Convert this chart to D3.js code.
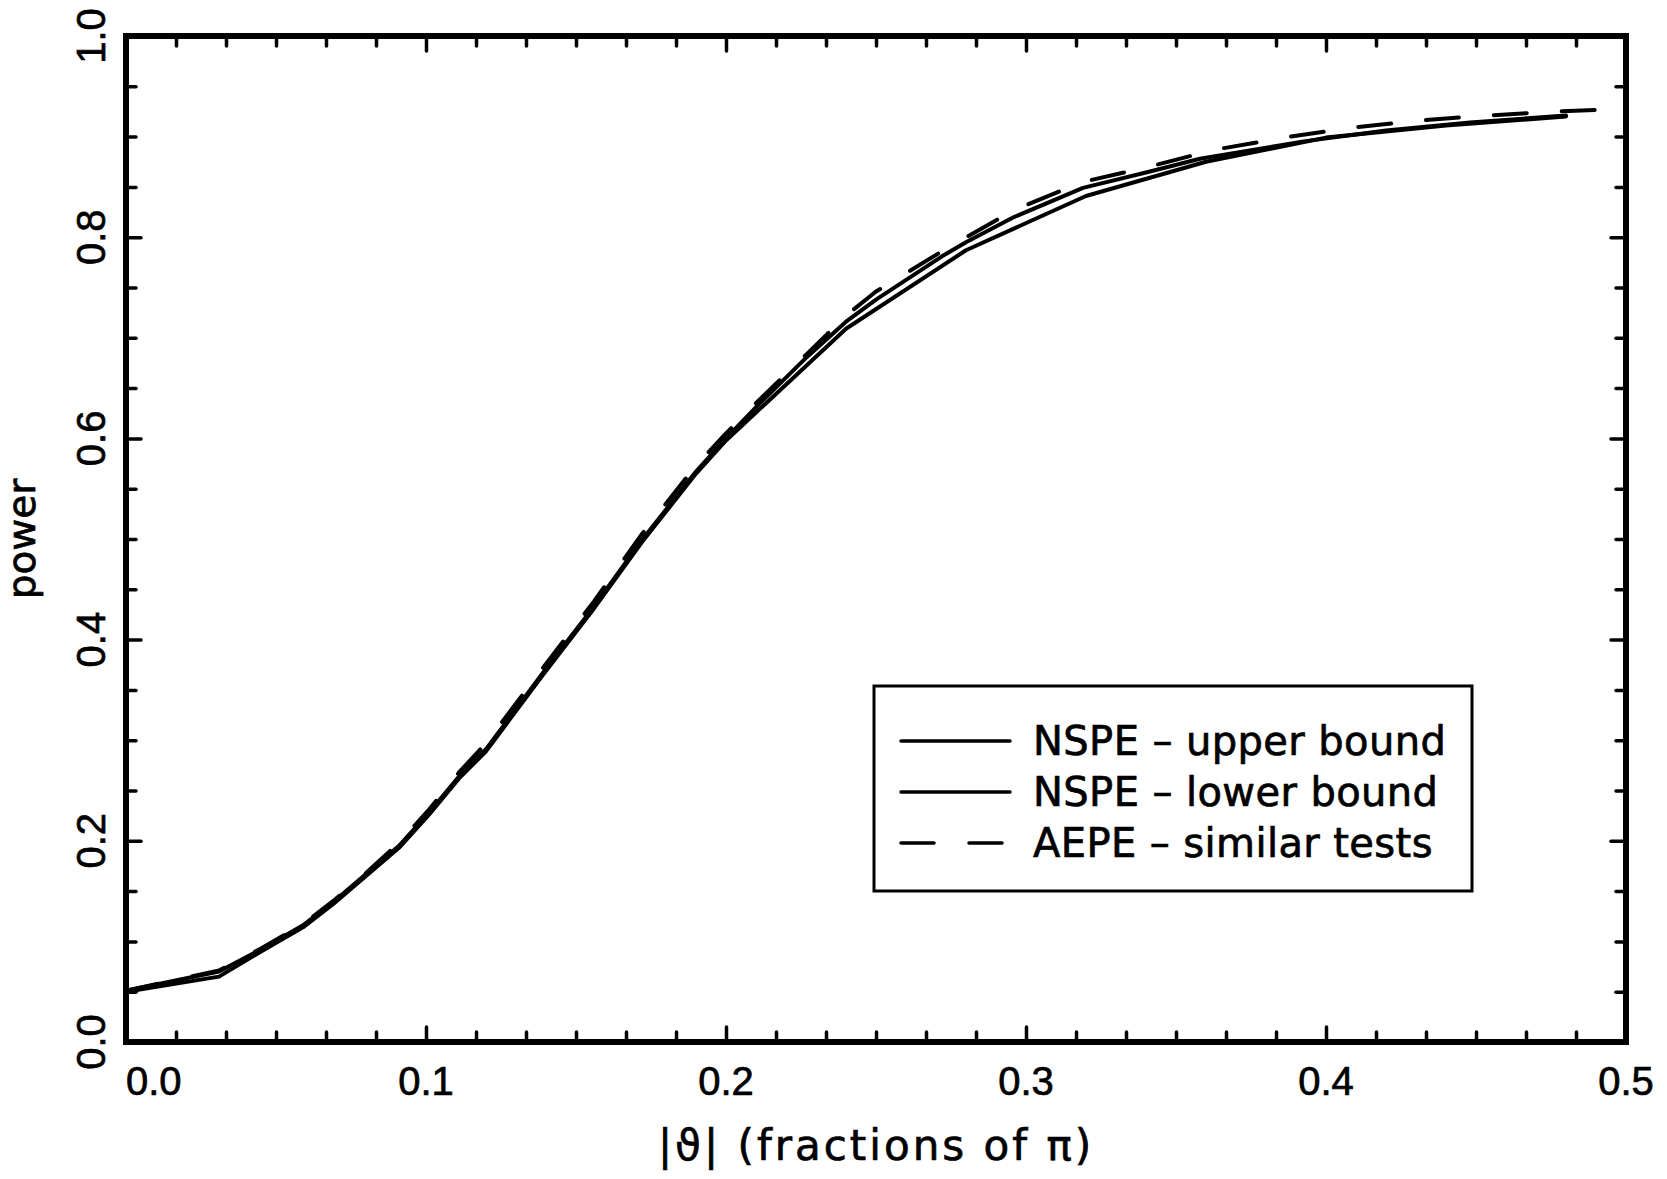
<!DOCTYPE html>
<html>
<head>
<meta charset="utf-8">
<script src="https://cdn.jsdelivr.net/npm/d3@7"></script>
<style>
  html, body { margin: 0; padding: 0; background: #fff; }
  svg { display: block; }
  svg text { fill: #000; stroke: #000; stroke-width: 0.7px; }
</style>
</head>
<body>
<svg id="chart"></svg>
<script>
const width = 1667;
const height = 1179;
const margin = { top: 36, right: 41, bottom: 137, left: 126 };

// NSPE - lower bound
const thetaLower = [0, 0.031, 0.045, 0.059, 0.069, 0.080, 0.091, 0.101, 0.111, 0.120, 0.139, 0.156, 0.172, 0.190, 0.200, 0.240, 0.280, 0.320, 0.360, 0.400, 0.440, 0.480];
const powerLower = [0.050, 0.065, 0.090, 0.114, 0.137, 0.165, 0.193, 0.226, 0.262, 0.289, 0.365, 0.431, 0.497, 0.565, 0.598, 0.709, 0.787, 0.841, 0.875, 0.899, 0.911, 0.920];

// NSPE - upper bound
const thetaUpper = [0, 0.031, 0.045, 0.059, 0.069, 0.080, 0.091, 0.101, 0.111, 0.120, 0.139, 0.156, 0.172, 0.190, 0.200, 0.211, 0.227, 0.240, 0.250, 0.272, 0.280, 0.296, 0.319, 0.341, 0.358, 0.392, 0.420, 0.448, 0.480];
const powerUpper = [0.051, 0.070, 0.092, 0.116, 0.139, 0.167, 0.195, 0.228, 0.264, 0.291, 0.367, 0.433, 0.499, 0.567, 0.600, 0.634, 0.681, 0.716, 0.738, 0.781, 0.795, 0.820, 0.849, 0.865, 0.878, 0.895, 0.906, 0.914, 0.921];

// AEPE - similar tests
const thetaAEPE = [0, 0.031, 0.045, 0.059, 0.069, 0.080, 0.091, 0.101, 0.111, 0.120, 0.139, 0.156, 0.172, 0.190, 0.200, 0.211, 0.227, 0.240, 0.250, 0.272, 0.296, 0.319, 0.341, 0.363, 0.386, 0.409, 0.431, 0.454, 0.477, 0.494];
const powerAEPE = [0.051, 0.071, 0.093, 0.117, 0.140, 0.168, 0.198, 0.231, 0.268, 0.297, 0.372, 0.438, 0.505, 0.573, 0.605, 0.638, 0.684, 0.722, 0.746, 0.786, 0.827, 0.855, 0.870, 0.887, 0.899, 0.909, 0.916, 0.921, 0.925, 0.927];

const xMajor = [0, 0.1, 0.2, 0.3, 0.4, 0.5];
const xMajorLabels = ["0.0", "0.1", "0.2", "0.3", "0.4", "0.5"];
const yMajor = [0, 0.2, 0.4, 0.6, 0.8, 1.0];
const yMajorLabels = ["0.0", "0.2", "0.4", "0.6", "0.8", "1.0"];
const legendLabels = ["NSPE \u2013 upper bound", "NSPE \u2013 lower bound", "AEPE \u2013 similar tests"];

const xMinor = d3.range(1, 30).map(i => i / 60).filter(v => Math.abs(v * 10 - Math.round(v * 10)) > 1e-6);
const yMinor = d3.range(1, 20).map(i => i / 20).filter(v => Math.abs(v * 5 - Math.round(v * 5)) > 1e-6);

const innerW = width - margin.left - margin.right;
const innerH = height - margin.top - margin.bottom;

const svg = d3.select("#chart")
  .attr("width", width)
  .attr("height", height);

const g = svg.append("g")
  .attr("transform", `translate(${margin.left},${margin.top})`);

const x = d3.scaleLinear().domain([0, 0.5]).range([0, innerW]);
const y = d3.scaleLinear().domain([0, 1]).range([innerH, 0]);

// ticks, all pointing inward
function tickAxis(axis, values, size, transform) {
  const a = g.append("g")
    .attr("transform", transform)
    .call(axis.tickValues(values).tickSize(size).tickFormat(""));
  a.select(".domain").remove();
  a.selectAll(".tick line").attr("stroke", "#000").attr("stroke-width", 3.5).attr("stroke-linecap", "round");
  return a;
}
tickAxis(d3.axisBottom(x), xMinor, -10, `translate(0,${innerH})`);
tickAxis(d3.axisBottom(x), xMajor, -15, `translate(0,${innerH})`);
tickAxis(d3.axisTop(x), xMinor, -10, "translate(0,0)");
tickAxis(d3.axisTop(x), xMajor, -15, "translate(0,0)");
tickAxis(d3.axisLeft(y), yMinor, -10, "translate(0,0)");
tickAxis(d3.axisLeft(y), yMajor, -15, "translate(0,0)");
tickAxis(d3.axisRight(y), yMinor, -10, `translate(${innerW},0)`);
tickAxis(d3.axisRight(y), yMajor, -15, `translate(${innerW},0)`);

// tick labels
g.append("g").selectAll("text")
  .data(xMajor)
  .enter()
  .append("text")
  .attr("x", d => x(d))
  .attr("y", innerH + 53)
  .attr("text-anchor", d => d === 0 ? "start" : "middle")
  .style("font-family", '"Liberation Sans", Arial, sans-serif')
  .style("font-size", "40px")
  .text((d, i) => xMajorLabels[i]);

g.append("g").selectAll("text")
  .data(yMajor)
  .enter()
  .append("text")
  .attr("transform", d => `translate(-21,${y(d)}) rotate(-90)`)
  .attr("text-anchor", "middle")
  .style("font-family", '"Liberation Sans", Arial, sans-serif')
  .style("font-size", "40px")
  .text((d, i) => yMajorLabels[i]);

// axis titles
svg.append("text")
  .attr("transform", `translate(35,${margin.top + innerH / 2}) rotate(-90)`)
  .attr("text-anchor", "middle")
  .style("font-family", '"DejaVu Sans", sans-serif')
  .style("font-size", "39px")
  .text("power");

svg.append("text")
  .attr("x", margin.left + innerW / 2)
  .attr("y", 1160)
  .attr("text-anchor", "middle")
  .style("font-family", '"DejaVu Sans", sans-serif')
  .style("font-size", "42px")
  .style("letter-spacing", "3px")
  .text("|\u03d1| (fractions of \u03c0)");

// curves
const line = d3.line()
  .x(d => x(d[0]))
  .y(d => y(d[1]));

const series = [
  { theta: thetaUpper, power: powerUpper, dash: null },
  { theta: thetaLower, power: powerLower, dash: null },
  { theta: thetaAEPE, power: powerAEPE, dash: "33,35" }
];

g.selectAll("path.curve")
  .data(series)
  .enter()
  .append("path")
  .attr("class", "curve")
  .attr("d", s => line(d3.zip(s.theta, s.power)))
  .attr("fill", "none")
  .attr("stroke", "#000")
  .attr("stroke-width", 4)
  .attr("stroke-linecap", "round")
  .attr("stroke-linejoin", "round")
  .attr("stroke-dasharray", s => s.dash);

// frame
g.append("rect")
  .attr("x", 0)
  .attr("y", 0)
  .attr("width", innerW)
  .attr("height", innerH)
  .attr("fill", "none")
  .attr("stroke", "#000")
  .attr("stroke-width", 6);

// legend
const legend = svg.append("g").attr("transform", "translate(874,686)");
legend.append("rect")
  .attr("width", 598)
  .attr("height", 205)
  .attr("fill", "#fff")
  .attr("stroke", "#000")
  .attr("stroke-width", 3);

const rows = legend.selectAll("g.row")
  .data(series)
  .enter()
  .append("g")
  .attr("class", "row")
  .attr("transform", (d, i) => `translate(0,${55 + i * 51})`);

rows.append("line")
  .attr("x1", 27)
  .attr("x2", 136)
  .attr("stroke", "#000")
  .attr("stroke-width", 3.5)
  .attr("stroke-linecap", "round")
  .attr("stroke-dasharray", d => d.dash);

rows.append("text")
  .attr("x", 159)
  .attr("y", 14)
  .style("font-family", '"DejaVu Sans", sans-serif')
  .style("font-size", "40px")
  .style("letter-spacing", "0.4px")
  .text((d, i) => legendLabels[i]);
</script>
</body>
</html>
